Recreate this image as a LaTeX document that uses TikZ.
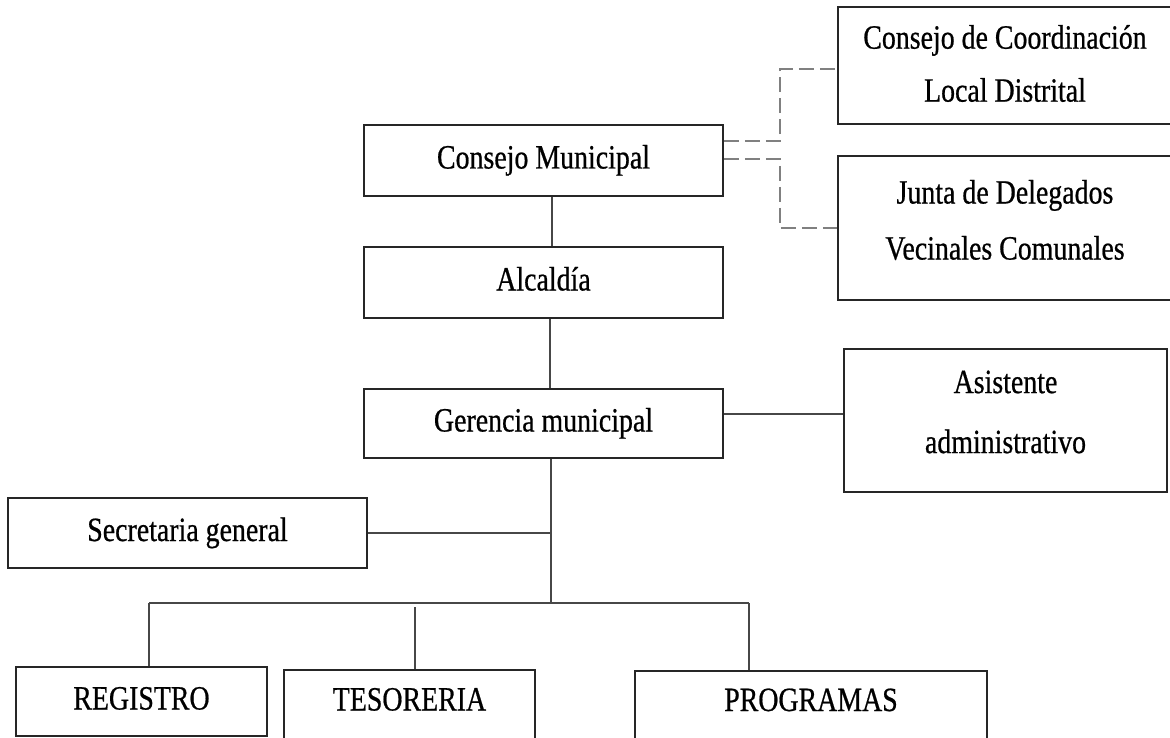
\documentclass[tikz,border=0pt]{standalone}
\usepackage{fontspec}
\setmainfont{Liberation Serif}[FakeStretch=0.82,FakeBold=0.6]
\begin{document}
\begin{tikzpicture}[x=1pt,y=-1pt,
  box/.style={draw=black!85, line width=1.6pt, inner sep=0pt,
    font=\fontsize{34}{40}\selectfont, text height=23pt, text depth=7pt},
  cutbox/.style={box, text depth=22pt},
  mbox/.style={draw=black!85, line width=1.6pt, inner sep=0pt},
  mtext/.style={inner sep=0pt, align=center},
  link/.style={draw=black!72, line width=1.6pt},
  dlink/.style={draw=black!50, line width=1.8pt, dash pattern=on 15pt off 6pt}]
\useasboundingbox (0,0) rectangle (1170,738);
\fill[white] (0,0) rectangle (1170,738);

% main column
\node[box, minimum width=359pt, minimum height=71pt] (cm)  at (543.5,160.5) {Consejo Municipal};
\node[box, minimum width=359pt, minimum height=71pt] (alc) at (543.5,282.5) {Alcaldía};
\node[box, minimum width=359pt, minimum height=69pt] (ger) at (543.5,423.5) {Gerencia municipal};
\node[box, minimum width=359pt, minimum height=70pt] (sec) at (187.5,533) {Secretaria general};

% right boxes
\node[mbox, minimum width=334pt, minimum height=117pt] (ccld) at (1005,65.5) {};
\node[mtext, font=\fontsize{34}{53}\selectfont] (ccldtxt) at ([yshift=2pt]ccld.center) {Consejo de Coordinación\\Local Distrital};
\node[mbox, minimum width=334pt, minimum height=144pt] (junta) at (1005,228) {};
\node[mtext, font=\fontsize{34}{56}\selectfont] (juntatxt) at ([yshift=8pt]junta.center) {Junta de Delegados\\Vecinales Comunales};
\node[mbox, minimum width=323pt, minimum height=143pt] (asis) at (1005.5,420.5) {};
\node[mtext, font=\fontsize{34}{60}\selectfont] (asistxt) at ([yshift=8.5pt]asis.center) {Asistente\\administrativo};

% bottom row
\node[box, minimum width=251pt, minimum height=69pt] (reg)  at (141.5,701.5) {REGISTRO};
\node[cutbox, minimum width=251pt, minimum height=80pt] (tes)  at (409.5,710) {TESORERIA};
\node[cutbox, minimum width=352pt, minimum height=80pt, text depth=23pt] (prog) at (811,711) {PROGRAMAS};

% helper coordinates
\coordinate (ax1) at (552,0);
\coordinate (ax2) at (550,0);
\coordinate (bj) at (551,603);
\coordinate (bl) at (149,603);
\coordinate (br) at (749,603);
\coordinate (tx) at (415,607);
\coordinate (dx) at (780,0);
\coordinate (c1) at ([yshift=-3.5pt]ccld.west);

% solid connectors
\draw[link] (cm.south -| ax1) -- (alc.north -| ax1);
\draw[link] (alc.south -| ax2) -- (ger.north -| ax2);
\draw[link] (ger.south -| bj) -- (bj);
\draw[link] (sec.east) -- (sec.east -| bj);
\draw[link] (bl) -- (br);
\draw[link] (bl) -- (reg.north -| bl);
\draw[link] (tx) -- (tes.north -| tx);
\draw[link] (br) -- (prog.north -| br);
\draw[link] ([yshift=9.5pt]ger.east) -- ([yshift=9.5pt]ger.east -| asis.west);

% dashed connectors
\draw[dlink] ([yshift=19.5pt]cm.east) -| (dx |- c1) -- (c1);
\draw[dlink] ([yshift=1.5pt]cm.east) -| (dx |- junta.west) -- (junta.west);
\end{tikzpicture}
\end{document}
